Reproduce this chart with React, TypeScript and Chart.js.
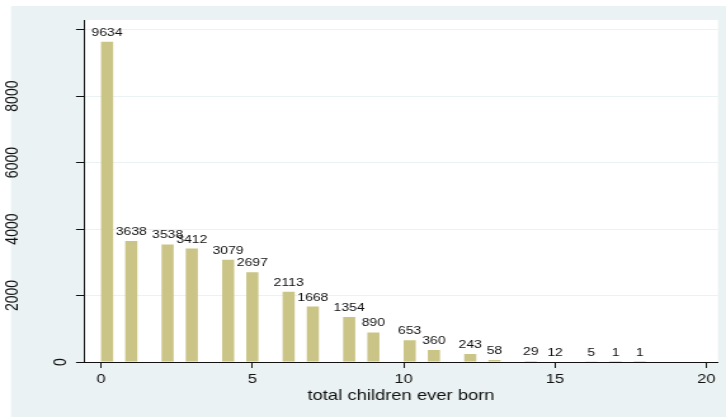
import React, { useEffect, useRef } from "react";
import { Chart, registerables } from "chart.js";

Chart.register(...registerables);

// ---- data ----
const childrenEverBorn = [0, 1, 2, 3, 4, 5, 6, 7, 8, 9, 10, 11, 12, 13, 14, 15, 16, 17, 18];
const frequencies = [9634, 3638, 3538, 3412, 3079, 2697, 2113, 1668, 1354, 890, 653, 360, 243, 58, 29, 12, 5, 1, 1];
const xTickValues = [0, 5, 10, 15, 20];
const yTickValues = [0, 2000, 4000, 6000, 8000, 10000];
const yTickLabels = ["0", "2000", "4000", "6000", "8000", ""];
const xAxisTitle = "total children ever born";
const binStart = 0;
const binWidth = 0.4;
const binCount = 45;

// ---- layout / style ----
const OUT_W = 726;
const H = 417;
const W = 572;
const S = OUT_W / W;
const FONT = '"Liberation Sans", Arial, Helvetica, sans-serif';
const BG = "#EAF2F3";
const BAR = "#CBC487";
const X_MIN = -0.562;
const X_MAX = 20.387;
const Y_MAX = 10290;
const PLOT_LEFT = 84 / S;
const PLOT_RIGHT = 718 / S;
const PLOT_TOP = 20;
const PLOT_BOTTOM = 362;

function binCenter(v: number): number {
  const idx = Math.min(Math.floor((v - binStart) / binWidth + 1e-9), binCount - 1);
  return binStart + (idx + 0.5) * binWidth;
}

const backgroundPlugin = {
  id: "bgPlugin",
  beforeDraw(chart: any) {
    const ctx = chart.ctx;
    const { left, top, right, bottom } = chart.chartArea;
    ctx.save();
    ctx.fillStyle = "#ffffff";
    ctx.fillRect(0, 0, chart.width, chart.height);
    ctx.fillStyle = BG;
    ctx.fillRect(11 / S, 6, chart.width, chart.height);
    ctx.fillStyle = "#ffffff";
    ctx.fillRect(left, top, right - left, bottom - top);
    ctx.restore();
  },
};

const labelsPlugin = {
  id: "labelsPlugin",
  afterDatasetsDraw(chart: any) {
    const ctx = chart.ctx;
    const meta = chart.getDatasetMeta(0);
    ctx.save();
    ctx.font = `11px ${FONT}`;
    ctx.fillStyle = "#111111";
    ctx.textAlign = "center";
    ctx.textBaseline = "alphabetic";
    meta.data.forEach((bar: any, i: number) => {
      ctx.fillText(String(frequencies[i]), bar.x, bar.y - 6);
    });
    ctx.restore();
  },
  afterDraw(chart: any) {
    const ctx = chart.ctx;
    const yScale = chart.scales.y;
    ctx.save();
    ctx.font = `14px ${FONT}`;
    ctx.fillStyle = "#111111";
    ctx.textAlign = "center";
    ctx.textBaseline = "middle";
    yScale.ticks.forEach((t: any, i: number) => {
      const label = yTickLabels[i];
      if (!label) return;
      const w = ctx.measureText(label).width;
      const cx = chart.chartArea.left - (7 + 2.04 * w) / S;
      const cy = yScale.getPixelForValue(t.value);
      ctx.save();
      ctx.translate(cx, cy);
      ctx.rotate(-Math.PI / 2);
      ctx.fillText(label, 0, 0);
      ctx.restore();
    });
    ctx.restore();
  },
};

export default function App() {
  const ref = useRef<HTMLCanvasElement | null>(null);

  useEffect(() => {
    if (!ref.current) return;
    const points = childrenEverBorn.map((v, i) => ({ x: binCenter(v), y: frequencies[i] }));
    const chart = new Chart(ref.current, {
      type: "bar",
      data: {
        datasets: [
          {
            data: points as any,
            backgroundColor: BAR,
            borderWidth: 0,
            categoryPercentage: 1,
            barPercentage: 0.5,
          },
        ],
      },
      options: {
        animation: false,
        responsive: false,
        maintainAspectRatio: false,
        devicePixelRatio: 1,
        layout: { padding: { left: 0, top: PLOT_TOP, right: W - PLOT_RIGHT, bottom: 0 } },
        plugins: { legend: { display: false }, tooltip: { enabled: false } },
        scales: {
          x: {
            type: "linear",
            min: X_MIN,
            max: X_MAX,
            offset: false,
            afterBuildTicks: (s: any) => {
              s.ticks = xTickValues.map((v) => ({ value: v }));
            },
            afterFit: (s: any) => {
              s.height = H - PLOT_BOTTOM;
            },
            border: { display: true, color: "#111111", width: 1 },
            grid: { drawOnChartArea: false, drawTicks: true, tickLength: 6, tickColor: "#111111", offset: false },
            ticks: { font: { family: FONT, size: 13 }, color: "#111111", padding: 4, maxRotation: 0, autoSkip: false },
            title: {
              display: true,
              text: xAxisTitle,
              font: { family: FONT, size: 14.5 },
              color: "#111111",
              padding: { top: 0, bottom: 12 },
            },
          },
          y: {
            type: "linear",
            min: 0,
            max: Y_MAX,
            afterBuildTicks: (s: any) => {
              s.ticks = yTickValues.map((v) => ({ value: v }));
            },
            afterFit: (s: any) => {
              s.width = PLOT_LEFT;
            },
            border: { display: true, color: "#111111", width: 1 },
            grid: { color: BG, lineWidth: 1, drawTicks: true, tickLength: 6.3, tickColor: "#111111" },
            ticks: { display: false },
          },
        },
      } as any,
      plugins: [backgroundPlugin, labelsPlugin],
    });
    return () => chart.destroy();
  }, []);

  return (
    <div style={{ position: "absolute", left: 0, top: 0, width: OUT_W, height: H, overflow: "hidden", background: "#fff" }}>
      <canvas
        ref={ref}
        width={W}
        height={H}
        style={{ display: "block", width: W, height: H, transform: `scaleX(${S})`, transformOrigin: "0 0" }}
      />
    </div>
  );
}
